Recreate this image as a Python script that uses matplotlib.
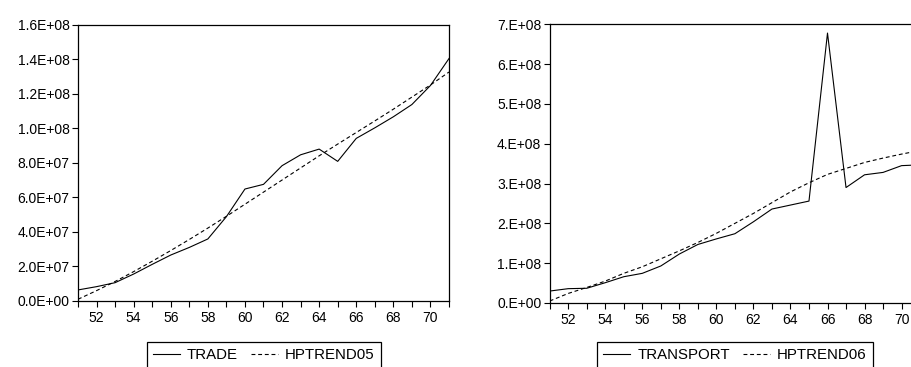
import matplotlib
matplotlib.use("Agg")
import matplotlib.pyplot as plt
from matplotlib.ticker import MultipleLocator, FixedLocator

plt.rcParams['font.family'] = ['Liberation Sans', 'DejaVu Sans']

years = list(range(51, 72))

trade = [6.4e6, 8.3e6, 10.6e6, 15.6e6, 21.2e6, 26.6e6, 31.0e6, 35.9e6, 48.8e6, 64.8e6,
         67.5e6, 78.3e6, 84.6e6, 87.9e6, 80.8e6, 94.1e6, 100.2e6, 106.6e6, 113.7e6, 124.7e6, 140.3e6]
hptrend05 = [1.0e6, 6.0e6, 11.3e6, 17.0e6, 23.0e6, 29.2e6, 35.6e6, 42.2e6, 49.0e6, 56.0e6,
             63.0e6, 70.0e6, 77.0e6, 84.0e6, 90.8e6, 97.5e6, 104.2e6, 111.0e6, 118.0e6, 125.0e6, 132.5e6]

transport = [0.30e8, 0.36e8, 0.37e8, 0.51e8, 0.66e8, 0.745e8, 0.93e8, 1.23e8, 1.47e8, 1.61e8,
             1.74e8, 2.04e8, 2.36e8, 2.46e8, 2.56e8, 6.78e8, 2.90e8, 3.22e8, 3.28e8, 3.45e8, 3.47e8]
hptrend06 = [0.05e8, 0.24e8, 0.39e8, 0.55e8, 0.745e8, 0.91e8, 1.11e8, 1.31e8, 1.52e8, 1.75e8,
             2.00e8, 2.25e8, 2.52e8, 2.79e8, 3.02e8, 3.23e8, 3.38e8, 3.53e8, 3.64e8, 3.74e8, 3.83e8]

left_yticks = [0, 2e7, 4e7, 6e7, 8e7, 1e8, 1.2e8, 1.4e8, 1.6e8]
left_ylabels = ["0.0E+00", "2.0E+07", "4.0E+07", "6.0E+07", "8.0E+07",
                "1.0E+08", "1.2E+08", "1.4E+08", "1.6E+08"]
right_yticks = [0, 1e8, 2e8, 3e8, 4e8, 5e8, 6e8, 7e8]
right_ylabels = ["0.E+00", "1.E+08", "2.E+08", "3.E+08", "4.E+08", "5.E+08", "6.E+08", "7.E+08"]
xlabel_years = list(range(52, 71, 2))

fs = 10
lfs = 10.8
W, H = 911, 367
fig = plt.figure(figsize=(W / 100, H / 100), dpi=100)

def make_ax(rect, y1, y2, l1, l2, yticks, ylabels, ymax, legend_center):
    ax = fig.add_axes(rect)
    ax.plot(years, y1, color='black', lw=0.8, label=l1)
    ax.plot(years, y2, color='black', lw=0.8, dashes=(3.5, 2.5), label=l2)
    ax.set_xlim(51, 71)
    ax.set_ylim(0, ymax)
    ax.xaxis.set_major_locator(FixedLocator(xlabel_years))
    ax.xaxis.set_minor_locator(MultipleLocator(1))
    ax.set_xticklabels([str(y) for y in xlabel_years])
    ax.set_yticks(yticks)
    ax.set_yticklabels(ylabels)
    ax.tick_params(axis='x', which='both', direction='out', length=4.5, width=0.8,
                   labelsize=fs, pad=3, color='black')
    ax.tick_params(axis='y', direction='out', length=4, width=0.8, labelsize=fs, pad=2)
    for s in ax.spines.values():
        s.set_linewidth(0.9)
    leg = fig.legend(loc='upper center', bbox_to_anchor=(legend_center, 1 - 342 / H),
                     borderaxespad=0,
                     ncol=2, fontsize=lfs, frameon=True, fancybox=False, shadow=False,
                     handlelength=1.8, handletextpad=0.45, columnspacing=0.9,
                     borderpad=0.4, framealpha=1, edgecolor='black',
                     handles=ax.get_lines())
    leg.get_frame().set_linewidth(0.9)
    return ax

ax1 = make_ax([78 / W, 1 - 301 / H, (449 - 78) / W, (301 - 24.5) / H],
              trade, hptrend05, "TRADE", "HPTREND05", left_yticks, left_ylabels, 1.6e8, 264 / W)
ax2 = make_ax([549.7 / W, 1 - 303 / H, (920.1 - 549.7) / W, (303 - 24.3) / H],
              transport, hptrend06, "TRANSPORT", "HPTREND06", right_yticks, right_ylabels, 7e8, 735 / W)

fig.savefig("out.png", dpi=100)
